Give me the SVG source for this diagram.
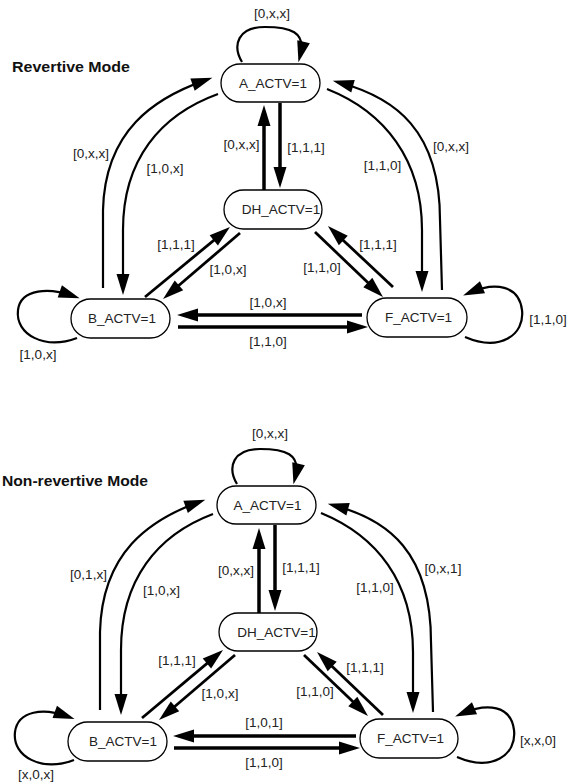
<svg xmlns="http://www.w3.org/2000/svg" width="571" height="782" viewBox="0 0 571 782">
<style>
.n rect{fill:#fff;stroke:#000;stroke-width:1.3}
.n text,.lbl text{font-family:"Liberation Sans",Arial,sans-serif;font-size:13.5px;fill:#222;text-anchor:middle}
.ttl{font-family:"Liberation Sans",Arial,sans-serif;font-size:15px;font-weight:bold;fill:#111}
.e path{fill:none;stroke:#000;marker-end:url(#ah)}
.c{stroke-width:2.2}
.s{stroke-width:3.5}
.d{stroke-width:2.8}
</style>
<defs>
<marker id="ah" markerUnits="userSpaceOnUse" markerWidth="22" markerHeight="14" refX="13" refY="6.5" orient="auto" overflow="visible"><path d="M0,0 L21,6.5 L0,13 z" fill="#000"/></marker>
</defs>
<rect width="571" height="782" fill="#fff"/>

<!-- ===== Revertive Mode ===== -->
<text class="ttl" x="12" y="72" textLength="118" lengthAdjust="spacingAndGlyphs">Revertive Mode</text>

<g id="edges-top" class="e">
<path class="c" d="M242 62 C232 45 238 27 265 27 C290 27 306 32 300.4 54.4"/>
<path class="c" d="M103 288 L103 210 C105 130 155 98 204.8 80.4"/>
<path class="c" d="M218 94 C160 115 123 160 123 230 L123 287"/>
<path class="c" d="M327 89 C385 112 422 160 422 230 L422 284"/>
<path class="c" d="M442 290 L440 220 C440 130 395 98 340.5 82.8"/>
<path class="s" d="M264 190 L264 113"/>
<path class="s" d="M280 103 L280 180"/>
<path class="d" d="M240 233 L169.1 293.8"/>
<path class="d" d="M145 297 L223.8 232.1"/>
<path class="d" d="M315 232 L377.2 291.5"/>
<path class="d" d="M393 287 L333.8 231.5"/>
<path class="s" d="M362 315 L185 315"/>
<path class="s" d="M178 327 L360 327"/>
<path class="c" d="M77 338 C45 350 15 335 18 310 C21 288 50 288 72.1 295.6"/>
<path class="c" d="M465 337 C500 352 525 335 522 310 C519 285 495 282 470.5 292.3"/>
</g>

<g id="A1" class="n"><rect x="221" y="64" width="99" height="38" rx="19"/><text x="273" y="87.5">A_ACTV=1</text></g>
<g id="DH1" class="n"><rect x="224" y="190" width="98" height="39" rx="19.5"/><text x="281" y="214">DH_ACTV=1</text></g>
<g id="B1" class="n"><rect x="71" y="299" width="99" height="39" rx="19.5"/><text x="122" y="323">B_ACTV=1</text></g>
<g id="F1" class="n"><rect x="367" y="298" width="100" height="39" rx="19.5"/><text x="418.5" y="322">F_ACTV=1</text></g>

<g id="labels-top" class="lbl">
<text x="272" y="18">[0,x,x]</text>
<text x="91" y="158">[0,x,x]</text>
<text x="165" y="173">[1,0,x]</text>
<text x="241.5" y="149">[0,x,x]</text>
<text x="306" y="151.5">[1,1,1]</text>
<text x="382.5" y="170">[1,1,0]</text>
<text x="451" y="151">[0,x,x]</text>
<text x="176" y="249">[1,1,1]</text>
<text x="228" y="274">[1,0,x]</text>
<text x="378" y="249">[1,1,1]</text>
<text x="322" y="272">[1,1,0]</text>
<text x="268" y="306.5">[1,0,x]</text>
<text x="268" y="346">[1,1,0]</text>
<text x="548" y="324">[1,1,0]</text>
<text x="38" y="359">[1,0,x]</text>
</g>

<!-- ===== Non-revertive Mode ===== -->
<text class="ttl" x="2" y="486" textLength="146" lengthAdjust="spacingAndGlyphs">Non-revertive Mode</text>

<g id="edges-bottom" class="e">
<path class="c" d="M237 484 C227 467 233 449 260 449 C285 449 301 454 295.4 476.4"/>
<path class="c" d="M100 710 L100 632 C102 552 150 520 197.8 502.4"/>
<path class="c" d="M213 514 C157 535 121 580 121 650 L121 707"/>
<path class="c" d="M321 513 C377 536 413 582 413 652 L413 705"/>
<path class="c" d="M433 712 L431 642 C431 552 388 520 335.5 505.8"/>
<path class="s" d="M259 613 L259 536"/>
<path class="s" d="M275 525 L275 603"/>
<path class="d" d="M235 655 L165.1 714.8"/>
<path class="d" d="M142 718 L216.9 655.1"/>
<path class="d" d="M304 655 L362.2 710.5"/>
<path class="d" d="M383 715 L322.8 657.5"/>
<path class="s" d="M356 736 L181 736"/>
<path class="s" d="M174 748 L352 748"/>
<path class="c" d="M74 760 C42 772 12 757 15 732 C18 710 44 708 67 716.3"/>
<path class="c" d="M457 757 C492 772 517 755 514 730 C511 705 487 703 462.5 713.3"/>
</g>

<g id="A2" class="n"><rect x="217" y="486" width="99" height="38" rx="19"/><text x="267.5" y="509.5">A_ACTV=1</text></g>
<g id="DH2" class="n"><rect x="219" y="613" width="98" height="38" rx="19"/><text x="276.5" y="636.5">DH_ACTV=1</text></g>
<g id="B2" class="n"><rect x="68" y="722" width="99" height="39" rx="19.5"/><text x="123" y="746">B_ACTV=1</text></g>
<g id="F2" class="n"><rect x="360" y="719" width="98" height="39" rx="19.5"/><text x="410.5" y="743">F_ACTV=1</text></g>

<g id="labels-bottom" class="lbl">
<text x="270" y="438">[0,x,x]</text>
<text x="88.5" y="579">[0,1,x]</text>
<text x="161.5" y="595">[1,0,x]</text>
<text x="236" y="575">[0,x,x]</text>
<text x="301" y="572">[1,1,1]</text>
<text x="375" y="592">[1,1,0]</text>
<text x="443" y="573">[0,x,1]</text>
<text x="177" y="665">[1,1,1]</text>
<text x="220" y="698">[1,0,x]</text>
<text x="365" y="672">[1,1,1]</text>
<text x="315" y="696">[1,1,0]</text>
<text x="264" y="727">[1,0,1]</text>
<text x="264" y="767">[1,1,0]</text>
<text x="36" y="779">[x,0,x]</text>
<text x="538" y="745">[x,x,0]</text>
</g>
</svg>
